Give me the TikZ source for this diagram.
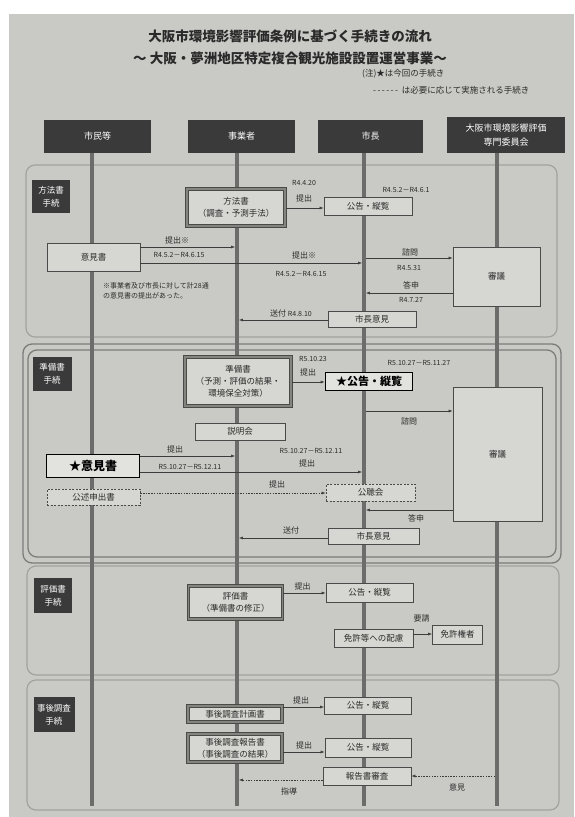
\documentclass[tikz,border=0pt]{standalone}
\usepackage{fontspec}
\setmainfont{Noto Sans CJK JP}
\usetikzlibrary{arrows.meta}
\definecolor{paper}{HTML}{C9C9C5}
\definecolor{boxfill}{HTML}{D6D6D2}
\definecolor{starfill}{HTML}{E2E2DE}
\definecolor{boxline}{HTML}{4A4A4A}
\definecolor{dblcol}{HTML}{85857F}
\definecolor{ink}{HTML}{2A2A2A}
\definecolor{hdrfill}{HTML}{3A3A3A}
\definecolor{lanecol}{HTML}{6C6C6A}
\definecolor{seccol}{HTML}{A2A2A0}
\definecolor{sec2col}{HTML}{7C7C7A}
\definecolor{arrcol}{HTML}{3C3C3C}
\newcommand\fsz[2]{\fontsize{#1}{#2}\selectfont}
\tikzset{
  box/.style={draw=boxline, fill=boxfill, line width=0.7pt, inner sep=0pt, align=center, text=ink, font=\fsz{8.5}{12}},
  dbox/.style={box, draw=boxline, double=dblcol, double distance=1.1pt, line width=1.1pt},
  starbox/.style={box, draw=black, fill=starfill, line width=1.6pt, text=black},
  dashbox/.style={box, dash pattern=on 2pt off 1.5pt},
  hdr/.style={fill=hdrfill, text=white, inner sep=0pt, align=center, font=\fsz{9}{13.5}},
  seclabel/.style={fill=hdrfill, text=white, inner sep=0pt, align=center, font=\fsz{8.5}{13}},
  lbl/.style={text=ink, inner sep=0pt, font=\fsz{8}{10}},
  dlbl/.style={text=ink, inner sep=0pt, font=\fsz{7}{9}},
  lane/.style={draw=lanecol, line width=3.6pt},
  sec/.style={draw=seccol, line width=1.2pt, rounded corners=9pt},
  sectwo/.style={draw=sec2col, line width=1.3pt, rounded corners=9pt},
  arr/.style={draw=arrcol, line width=0.6pt, -{Latex[length=4pt,width=3pt]}},
  darr/.style={arr, dash pattern=on 1.5pt off 1.2pt},
  tolane/.style={shorten >=1.9pt},
  fromlane/.style={shorten <=1.9pt}
}
\begin{document}
\begin{tikzpicture}[x=1pt,y=-1pt]
\useasboundingbox (0,0) rectangle (574,817);
\fill[white] (0,0) rectangle (574,817);
\fill[paper] (9,14) rectangle (574,817);

% title and notes
\node[text=ink, font=\fsz{13.5}{16}\bfseries, inner sep=0pt] (title1) at (290,36) {大阪市環境影響評価条例に基づく手続きの流れ};
\node[text=ink, font=\fsz{13.5}{16}\bfseries, inner sep=0pt] (title2) at (290,58) {～ 大阪・夢洲地区特定複合観光施設設置運営事業～};
\node[text=ink, font=\fsz{8.5}{10}, inner sep=0pt, anchor=west] (note1) at (362,74) {(注)★は今回の手続き};
\node[text=ink, font=\fsz{8.5}{10}, inner sep=0pt, anchor=west] (note2) at (373,90) {-\,-\,-\,-\,-\,-\ \ は必要に応じて実施される手続き};

% sections
\draw[sec] (26,165) rectangle (557,337);
\draw[sectwo] (23,344) rectangle (561,563);
\draw[sectwo] (28,350) rectangle (556,557);
\draw[sec] (27,566) rectangle (559,675);
\draw[sec] (27,680) rectangle (559,810);

\node[seclabel, minimum width=38pt, minimum height=33pt] (s1) at (51,196.5) {方法書\\手続};
\node[seclabel, minimum width=39pt, minimum height=34pt] (s2) at (52,374) {準備書\\手続};
\node[seclabel, minimum width=38pt, minimum height=35pt] (s3) at (53,595.5) {評価書\\手続};
\node[seclabel, minimum width=41pt, minimum height=35pt] (s4) at (54,714.5) {事後調査\\手続};

% headers
\node[hdr, minimum width=107pt, minimum height=33pt] (H1) at (97.5,136.5) {市民等};
\node[hdr, minimum width=107pt, minimum height=33pt] (H2) at (241.5,136.5) {事業者};
\node[hdr, minimum width=105pt, minimum height=33pt] (H3) at (370.5,136.5) {市長};
\node[hdr, minimum width=118pt, minimum height=36pt] (H4) at (506,135) {大阪市環境影響評価\\専門委員会};

\coordinate (L1) at (92,153);
\coordinate (L2) at (237,153);
\coordinate (L3) at (364,153);
\coordinate (L4) at (497,153);
\foreach \l in {L1,L2,L3,L4} \draw[lane] (\l) -- (\l |- 0,806);

% ---------- section 1 ----------
\node[dbox, minimum width=98pt, minimum height=37pt] (hoho) at (236,207.5) {方法書\\（調査・予測手法）};
\node[box, minimum width=88pt, minimum height=18pt] (koku1) at (368,206) {公告・縦覧};
\node[box, minimum width=93pt, minimum height=28pt] (iken1) at (93.5,257) {意見書};
\node[box, minimum width=87pt, minimum height=59pt] (shingi1) at (496.5,276.5) {審議};
\node[box, minimum width=88pt, minimum height=16pt] (shicho1) at (372,319) {市長意見};

\draw[arr] (hoho.east |- 0,208) -- (koku1.west |- 0,208);
\node[dlbl] (t1a) at (304,183) {R4.4.20};
\node[lbl] (t1b) at (304,198) {提出};
\node[dlbl] (t1c) at (406,190) {R4.5.2－R4.6.1};

\draw[arr, tolane] (iken1.east |- 0,247) -- (L2 |- 0,247);
\node[lbl] (t1d) at (177,240) {提出※};
\node[dlbl] (t1e) at (179,255) {R4.5.2－R4.6.15};
\draw[arr, tolane] (iken1.east |- 0,263) -- (L3 |- 0,263);
\node[lbl] (t1f) at (304,255) {提出※};
\node[dlbl] (t1g) at (301,274) {R4.5.2－R4.6.15};

\node[text=ink, inner sep=0pt, font=\fsz{7}{10.5}, align=left, anchor=north west] (note3) at (103,282) {※事業者及び市長に対して計28通\\の意見書の提出があった。};

\draw[arr, fromlane] (L3 |- 0,258) -- (shingi1.west |- 0,258);
\node[lbl] (t1h) at (410,252) {諮問};
\node[dlbl] (t1i) at (409,268) {R4.5.31};
\draw[arr, tolane] (shingi1.west |- 0,293) -- (L3 |- 0,293);
\node[lbl] (t1j) at (411,285) {答申};
\node[dlbl] (t1k) at (411,300) {R4.7.27};
\draw[arr, tolane] (shicho1.west |- 0,320) -- (L2 |- 0,320);
\node[lbl] (t1l) at (291,313) {送付 {\fsz{7}{9}R4.8.10}};

% ---------- section 2 ----------
\node[dbox, minimum width=106pt, minimum height=49pt] (junbi) at (238,381.5) {準備書\\（予測・評価の結果・\\環境保全対策）};
\node[starbox, minimum width=87pt, minimum height=18pt, font=\fsz{11}{13}\bfseries] (koku2) at (369,381.5) {★公告・縦覧};
\node[box, minimum width=89pt, minimum height=134pt] (shingi2) at (497.5,454) {審議};
\node[box, minimum width=90pt, minimum height=17pt] (setsumei) at (240,431.5) {説明会};
\node[starbox, minimum width=93pt, minimum height=23pt, font=\fsz{12}{14}\bfseries] (iken2) at (93,466) {★意見書};
\node[dashbox, minimum width=93pt, minimum height=16pt] (kojutsu) at (93.5,497) {公述申出書};
\node[dashbox, minimum width=89pt, minimum height=17pt] (kocho) at (370.5,492.5) {公聴会};
\node[box, minimum width=91pt, minimum height=16pt] (shicho2) at (373.5,536) {市長意見};

\draw[arr] (junbi.east |- 0,382) -- (koku2.west |- 0,382);
\node[dlbl] (t2a) at (313,359) {R5.10.23};
\node[lbl] (t2b) at (308,372) {提出};
\node[dlbl] (t2c) at (419,363) {R5.10.27－R5.11.27};
\draw[arr, fromlane] (L3 |- 0,411) -- (shingi2.west |- 0,411);
\node[lbl] (t2d) at (409,421) {諮問};
\draw[arr, tolane] (iken2.east |- 0,456) -- (L2 |- 0,456);
\node[lbl] (t2e) at (175,449) {提出};
\node[dlbl] (t2f) at (190,467) {R5.10.27－R5.12.11};
\draw[arr, tolane] (iken2.east |- 0,472) -- (L3 |- 0,472);
\node[dlbl] (t2g) at (311,451) {R5.10.27－R5.12.11};
\node[lbl] (t2h) at (307,463) {提出};
\draw[darr] (kojutsu.east |- 0,493) -- (kocho.west |- 0,493);
\node[lbl] (t2i) at (277,484) {提出};
\draw[arr, tolane] (shingi2.west |- 0,510) -- (L3 |- 0,510);
\node[lbl] (t2j) at (416,518) {答申};
\draw[arr, tolane] (shicho2.west |- 0,538) -- (L2 |- 0,538);
\node[lbl] (t2k) at (291,530) {送付};

% ---------- section 3 ----------
\node[dbox, minimum width=94pt, minimum height=33pt] (hyoka) at (235.5,602.5) {評価書\\（準備書の修正）};
\node[box, minimum width=87pt, minimum height=19pt] (koku3) at (369.5,592.5) {公告・縦覧};
\node[box, minimum width=79pt, minimum height=18pt] (menkyo) at (373.5,638) {免許等への配慮};
\node[box, minimum width=50pt, minimum height=19pt] (kenja) at (457.5,634.5) {免許権者};
\draw[arr] (hyoka.east |- 0,593) -- (koku3.west |- 0,593);
\node[lbl] (t3a) at (302.5,586) {提出};
\draw[arr] (menkyo.east |- 0,634) -- (kenja.west |- 0,634);
\node[lbl] (t3b) at (421.5,618) {要請};

% ---------- section 4 ----------
\node[dbox, minimum width=94pt, minimum height=16pt] (jigo1) at (235,714) {事後調査計画書};
\node[box, minimum width=87pt, minimum height=17pt] (koku4) at (368,705.5) {公告・縦覧};
\node[dbox, minimum width=94pt, minimum height=28pt] (jigo2) at (235,748) {事後調査報告書\\（事後調査の結果）};
\node[box, minimum width=86pt, minimum height=19pt] (koku5) at (368,747.5) {公告・縦覧};
\node[box, minimum width=88pt, minimum height=18pt] (hokoku) at (367,776) {報告書審査};
\draw[arr] (jigo1.east |- 0,707) -- (koku4.west |- 0,707);
\node[lbl] (t4a) at (301,700) {提出};
\draw[arr] (jigo2.east |- 0,752) -- (koku5.west |- 0,752);
\node[lbl] (t4b) at (304,745) {提出};
\draw[darr, tolane] (hokoku.west |- 0,780) -- (L2 |- 0,780);
\node[lbl] (t4c) at (289,791) {指導};
\draw[darr, fromlane] (L4 |- 0,776) -- (hokoku.east |- 0,776);
\node[lbl] (t4d) at (457,787) {意見};
\end{tikzpicture}
\end{document}
